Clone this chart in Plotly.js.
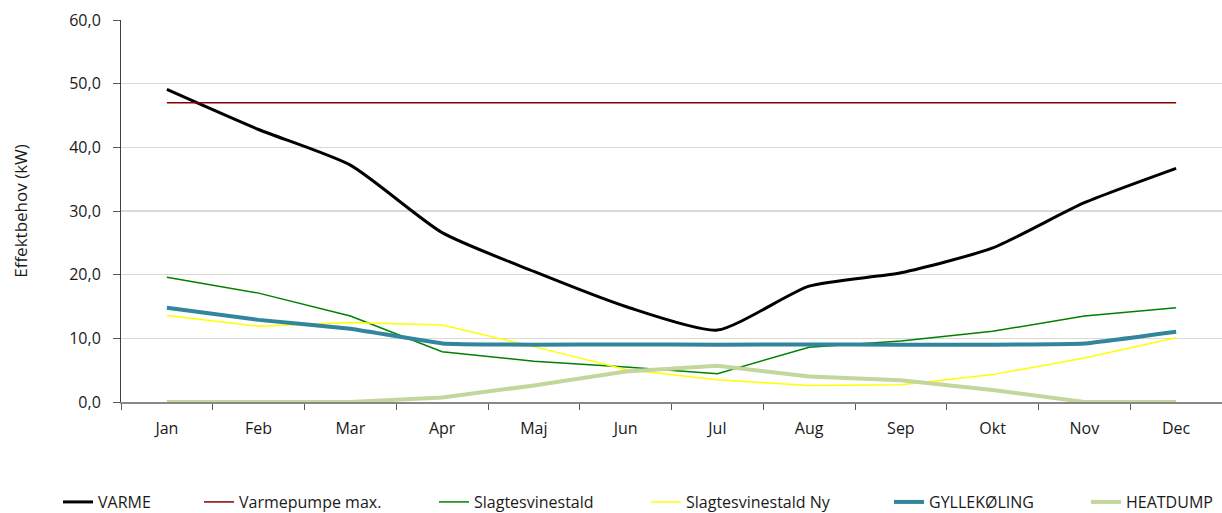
<!DOCTYPE html>
<html>
<head>
<meta charset="utf-8">
<script src="https://cdn.plot.ly/plotly-3.0.1.min.js"></script>
<style>html,body{margin:0;padding:0;background:#fff;}#chart{width:1222px;height:513px;}</style>
</head>
<body>
<div id="chart"></div>
<script>
const months = ['Jan','Feb','Mar','Apr','Maj','Jun','Jul','Aug','Sep','Okt','Nov','Dec'];
const varme = [49.1, 42.8, 37.2, 26.6, 20.5, 15.0, 11.3, 18.2, 20.3, 24.2, 31.3, 36.7];
const varmepumpeMax = [47, 47, 47, 47, 47, 47, 47, 47, 47, 47, 47, 47];
const slagtesvinestald = [19.6, 17.1, 13.5, 7.9, 6.4, 5.5, 4.45, 8.6, 9.6, 11.1, 13.5, 14.8];
const slagtesvinestaldNy = [13.6, 11.9, 12.5, 12.1, 8.7, 5.1, 3.5, 2.6, 2.7, 4.3, 6.9, 10.1];
const gyllekoling = [14.8, 12.9, 11.5, 9.2, 9.0, 9.05, 9.0, 9.05, 9.0, 9.0, 9.2, 11.05];
const heatdump = [0, 0, 0, 0.7, 2.6, 4.8, 5.7, 4.0, 3.4, 1.9, 0, 0];
const yTicks = [0, 10, 20, 30, 40, 50, 60];

const FONT = 'Open Sans, Noto Sans, sans-serif';
const TXT = '#1a1a1a';

const traces = [
  {name: 'VARME', y: varme, line: {color: '#000000', width: 3, shape: 'spline', smoothing: 0.6}, legend: 'legend'},
  {name: 'Varmepumpe max.', y: varmepumpeMax, line: {color: '#8B0000', width: 1.5}, legend: 'legend2'},
  {name: 'Slagtesvinestald', y: slagtesvinestald, line: {color: '#008000', width: 1.5}, legend: 'legend3'},
  {name: 'Slagtesvinestald Ny', y: slagtesvinestaldNy, line: {color: '#FFFF00', width: 1.5}, legend: 'legend4'},
  {name: 'GYLLEKØLING', y: gyllekoling, line: {color: '#31859C', width: 4, shape: 'spline', smoothing: 0.3}, legend: 'legend5'},
  {name: 'HEATDUMP', y: heatdump, line: {color: '#C3D69B', width: 4}, legend: 'legend6'}
].map(t => Object.assign({type: 'scatter', mode: 'lines', x: months, cliponaxis: false, hoverinfo: 'skip'}, t));

const legendStarts = [58, 199, 434, 646, 889, 1086];
const legendBase = {orientation: 'h', xref: 'container', yref: 'container', y: 0.0214, yanchor: 'middle', xanchor: 'left',
  bgcolor: 'rgba(0,0,0,0)', font: {family: FONT, size: 16, color: TXT}, itemwidth: 30, tracegroupgap: 0};

const layout = {
  width: 1222, height: 513,
  margin: {l: 121, r: 0, t: 20, b: 111},
  paper_bgcolor: '#fff', plot_bgcolor: '#fff',
  separators: ',.',
  font: {family: FONT, size: 16, color: TXT},
  showlegend: true,
  xaxis: {
    type: 'category', range: [-0.5, 11.5], tickson: 'boundaries', ticks: 'outside', ticklen: 6, tickcolor: '#595959',
    showline: true, linecolor: '#898989', linewidth: 2, showgrid: false, layer: 'below traces',
    ticklabelstandoff: 11,
    tickfont: {family: FONT, size: 16, color: TXT}, fixedrange: true
  },
  yaxis: {
    range: [0, 60], tickvals: yTicks, tickformat: '.1f', ticks: 'outside', ticklen: 7, tickcolor: '#595959',
    showline: true, linecolor: '#404040', linewidth: 1, showgrid: true, gridcolor: '#D9D9D9', gridwidth: 1.5,
    zeroline: false, layer: 'below traces', ticklabelstandoff: 9,
    tickfont: {family: FONT, size: 16, color: TXT},
    title: {text: 'Effektbehov (kW)', font: {family: FONT, size: 17, color: TXT}, standoff: 37}, fixedrange: true
  }
};
['legend','legend2','legend3','legend4','legend5','legend6'].forEach((k, i) => {
  layout[k] = Object.assign({}, legendBase, {x: legendStarts[i] / 1222});
});

Plotly.newPlot('chart', traces, layout, {displayModeBar: false, staticPlot: true});
</script>
</body>
</html>
